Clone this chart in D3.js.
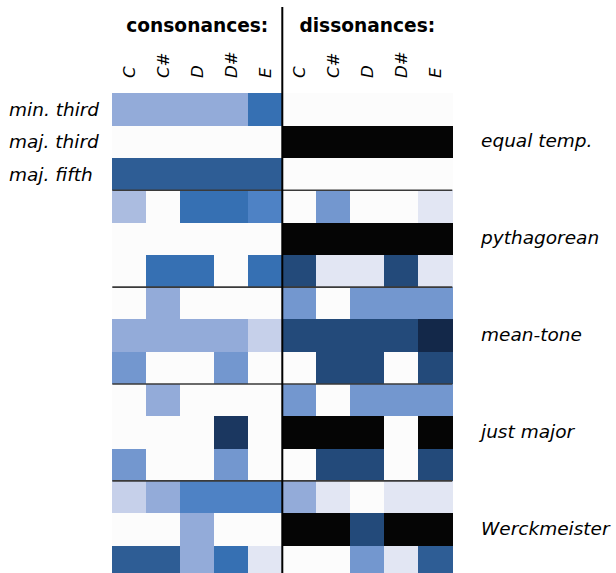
<!DOCTYPE html>
<html>
<head>
<meta charset="utf-8">
<script src="https://cdn.jsdelivr.net/npm/d3@7"></script>
<style>
  body { margin: 0; background: #fff; }
  svg { display: block; }
  text { font-family: "DejaVu Sans", sans-serif; fill: #000; }
</style>
</head>
<body>
<svg></svg>
<script>
// notes on the x axis of each panel
const notes = ['C', 'C#', 'D', 'D#', 'E'];
const intervals = ['min. third', 'maj. third', 'maj. fifth'];
const tunings = ['equal temp.', 'pythagorean', 'mean-tone', 'just major', 'Werckmeister'];

// colour level per cell (0 = white ... 12 = black), 15 rows = 5 tunings x 3 intervals
const consonances = [
  [4, 4, 4, 4, 7],
  [0, 0, 0, 0, 0],
  [8, 8, 8, 8, 8],
  [3, 0, 7, 7, 6],
  [0, 0, 0, 0, 0],
  [0, 7, 7, 0, 7],
  [0, 4, 0, 0, 0],
  [4, 4, 4, 4, 2],
  [5, 0, 0, 5, 0],
  [0, 4, 0, 0, 0],
  [0, 0, 0, 10, 0],
  [5, 0, 0, 5, 0],
  [2, 4, 6, 6, 6],
  [0, 0, 4, 0, 0],
  [8, 8, 4, 7, 1]
];
const dissonances = [
  [0, 0, 0, 0, 0],
  [12, 12, 12, 12, 12],
  [0, 0, 0, 0, 0],
  [0, 5, 0, 0, 1],
  [12, 12, 12, 12, 12],
  [9, 1, 1, 9, 1],
  [5, 0, 5, 5, 5],
  [9, 9, 9, 9, 11],
  [0, 9, 9, 0, 9],
  [5, 0, 5, 5, 5],
  [12, 12, 12, 0, 12],
  [0, 9, 9, 0, 9],
  [4, 1, 0, 1, 1],
  [12, 12, 9, 12, 12],
  [0, 0, 5, 1, 8]
];

const levelColors = ['#fcfcfc', '#e2e6f3', '#c6d0ea', '#abbce0', '#93abd9', '#7397cf',
  '#4e82c5', '#3670b3', '#2e5d95', '#234a7a', '#1b3760', '#132849', '#050505'];

const width = 616;
const height = 573;

const svg = d3.select('svg')
  .attr('width', width)
  .attr('height', height);

const color = d3.scaleLinear()
  .domain(d3.range(levelColors.length))
  .range(levelColors);

const rowH = 32.3;
const gridTop = 93.3;
const y = d3.scaleBand()
  .domain(d3.range(consonances.length))
  .range([gridTop, gridTop + rowH * consonances.length]);

const panels = [
  { title: 'consonances:', data: consonances, x0: 112.3 },
  { title: 'dissonances:', data: dissonances, x0: 282.3 }
];
const colW = 34;

panels.forEach(p => {
  const x = d3.scaleBand()
    .domain(notes)
    .range([p.x0, p.x0 + colW * notes.length]);

  const g = svg.append('g');
  const cells = p.data.flatMap((row, i) => row.map((v, j) => ({ row: i, note: notes[j], v })));

  g.selectAll('rect')
    .data(cells)
    .enter().append('rect')
    .attr('x', d => x(d.note))
    .attr('y', d => y(d.row))
    .attr('width', x.bandwidth() + 0.6)
    .attr('height', y.bandwidth() + 0.6)
    .attr('shape-rendering', 'crispEdges')
    .attr('fill', d => color(d.v));

  g.append('text')
    .attr('x', p.x0 + colW * notes.length / 2)
    .attr('y', 32)
    .attr('text-anchor', 'middle')
    .style('font-size', '18.6px')
    .style('font-weight', 'bold')
    .text(p.title);

  g.selectAll('.note')
    .data(notes)
    .enter().append('text')
    .attr('class', 'note')
    .attr('transform', d => `translate(${x(d) + x.bandwidth() / 2},78) rotate(-90)`)
    .attr('dy', '0.36em')
    .style('font-size', '16.5px')
    .style('font-style', 'italic')
    .text(d => d);
});

// group separators every three rows
const x1 = 112.3, x2 = 282.3 + colW * notes.length;
svg.selectAll('.sep')
  .data(d3.range(1, tunings.length))
  .enter().append('line')
  .attr('class', 'sep')
  .attr('x1', x1)
  .attr('x2', x2)
  .attr('y1', d => y(d * 3))
  .attr('y2', d => y(d * 3))
  .attr('stroke', '#3a3a3a')
  .attr('stroke-width', 1.6);

svg.append('line')
  .attr('x1', 282.3)
  .attr('x2', 282.3)
  .attr('y1', 7)
  .attr('y2', height)
  .attr('stroke', '#000')
  .attr('stroke-width', 2);

svg.selectAll('.interval')
  .data(intervals)
  .enter().append('text')
  .attr('class', 'interval')
  .attr('x', 9)
  .attr('y', (d, i) => y(i) + y.bandwidth() / 2)
  .attr('dy', '0.35em')
  .style('font-size', '18.5px')
  .style('font-style', 'italic')
  .text(d => d);

svg.selectAll('.tuning')
  .data(tunings)
  .enter().append('text')
  .attr('class', 'tuning')
  .attr('x', 481)
  .attr('y', (d, i) => y(i * 3 + 1) + y.bandwidth() / 2 - 1)
  .attr('dy', '0.35em')
  .style('font-size', '18.5px')
  .style('font-style', 'italic')
  .text(d => d);
</script>
</body>
</html>
